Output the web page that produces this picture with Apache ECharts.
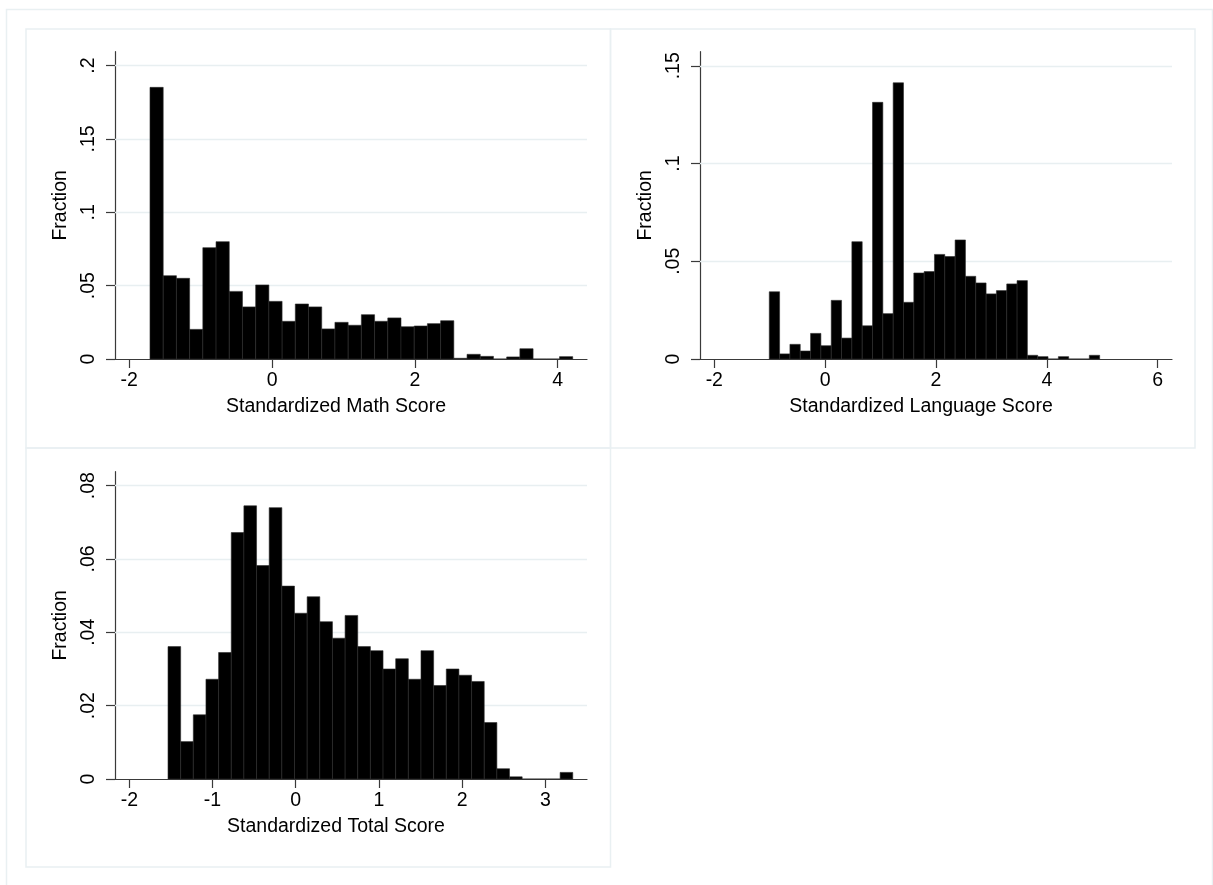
<!DOCTYPE html>
<html>
<head>
<meta charset="utf-8">
<script src="https://cdn.jsdelivr.net/npm/echarts@6/dist/echarts.min.js"></script>
<style>
html,body{margin:0;padding:0;background:#fff;}
#chart{width:1213px;height:885px;}
</style>
</head>
<body>
<div id="chart"></div>
<script>
// ---- Data (fraction per bin) ----
const mathBinStart = -1.71;
const mathBinWidth = 0.185;
const mathValues = [0.1852, 0.0568, 0.0550, 0.0202, 0.0759, 0.0800, 0.0461, 0.0355,
  0.0505, 0.0393, 0.0257, 0.0375, 0.0355, 0.0205, 0.0250, 0.0230,
  0.0302, 0.0257, 0.0280, 0.0220, 0.0225, 0.0241, 0.0261, 0.0005,
  0.0032, 0.0018, 0, 0.0014, 0.0070, 0, 0, 0.0016];

const langBinStart = -1.008;
const langBinWidth = 0.1863;
const langValues = [0.0344, 0.0026, 0.0075, 0.0041, 0.0131, 0.0068, 0.0300, 0.0107,
  0.0600, 0.0170, 0.1313, 0.0232, 0.1413, 0.0290, 0.0440, 0.0447,
  0.0535, 0.0524, 0.0609, 0.0423, 0.0389, 0.0333, 0.0350, 0.0384,
  0.0401, 0.0019, 0.0012, 0, 0.0012, 0, 0, 0.0019];

const totalBinStart = -1.535;
const totalBinWidth = 0.152;
const totalValues = [0.0361, 0.0102, 0.0175, 0.0272, 0.0345, 0.0672, 0.0745, 0.0582,
  0.0740, 0.0526, 0.0452, 0.0497, 0.0429, 0.0384, 0.0446, 0.0361,
  0.0350, 0.0300, 0.0328, 0.0272, 0.0350, 0.0255, 0.0300, 0.0283,
  0.0266, 0.0154, 0.0028, 0.0006, 0, 0, 0, 0.0018];

const mathXTicks = [-2, 0, 2, 4];
const langXTicks = [-2, 0, 2, 4, 6];
const totalXTicks = [-2, -1, 0, 1, 2, 3];
const mathYTicks = [0, 0.05, 0.1, 0.15, 0.2];
const langYTicks = [0, 0.05, 0.1, 0.15];
const totalYTicks = [0, 0.02, 0.04, 0.06, 0.08];

const mathTitle = 'Standardized Math Score';
const langTitle = 'Standardized Language Score';
const totalTitle = 'Standardized Total Score';
const yTitle = 'Fraction';

// ---- helpers ----
function bins(start, width, values) {
  return values.map((v, i) => [start + i * width, start + (i + 1) * width, v]);
}
const FONT = '"Liberation Sans", Arial, Helvetica, sans-serif';
const FS = 19.5;
const AXIS_COLOR = '#3a3a3a';
const GRID_COLOR = '#e8eff1';
const FRAME_COLOR = '#e9f0f2';

function fmtY(v) {
  if (v === 0) return '0';
  return String(+v.toFixed(4)).replace(/^0\./, '.');
}

function xAxisDef(idx, min, max, ticks, name) {
  return {
    type: 'value', gridIndex: idx, min: min, max: max,
    name: name, nameLocation: 'middle', nameGap: 38,
    nameTextStyle: {fontFamily: FONT, fontSize: FS, color: '#000', padding: [0, 30, 0, 0]},
    axisLine: {show: true, onZero: false, lineStyle: {color: AXIS_COLOR, width: 1.2}},
    axisTick: {show: true, length: 9, inside: false, customValues: ticks, lineStyle: {color: AXIS_COLOR, width: 1.2}},
    axisLabel: {customValues: ticks, margin: 12, fontFamily: FONT, fontSize: FS, color: '#000',
      formatter: v => String(v)},
    splitLine: {show: false}
  };
}
function yAxisDef(idx, max, ticks) {
  return {
    type: 'value', gridIndex: idx, min: 0, max: max,
    name: yTitle, nameLocation: 'middle', nameGap: 44, nameRotate: 90,
    nameTextStyle: {fontFamily: FONT, fontSize: FS, color: '#000'},
    axisLine: {show: true, onZero: false, lineStyle: {color: AXIS_COLOR, width: 1.2}},
    axisTick: {show: true, length: 9, inside: false, customValues: ticks, lineStyle: {color: AXIS_COLOR, width: 1.2}},
    axisLabel: {customValues: ticks, margin: 16, rotate: 90, fontFamily: FONT, fontSize: FS, color: '#000',
      formatter: fmtY},
    splitLine: {show: false}
  };
}
function gridSeries(idx, gridTicks) {
  return {
    type: 'line', xAxisIndex: idx, yAxisIndex: idx, silent: true, data: [],
    z: 1,
    markLine: {
      silent: true, symbol: 'none', animation: false, z: 1,
      label: {show: false},
      emphasis: {disabled: true},
      lineStyle: {color: GRID_COLOR, width: 1.3, type: 'solid'},
      data: gridTicks.filter(t => t !== 0).map(t => ({yAxis: t}))
    }
  };
}
function histSeries(idx, data) {
  return {
    type: 'custom', xAxisIndex: idx, yAxisIndex: idx, silent: true,
    data: data, z: 10,
    renderItem: function (params, api) {
      const p0 = api.coord([api.value(0), 0]);
      const p1 = api.coord([api.value(1), api.value(2)]);
      return {
        type: 'rect',
        shape: {x: p0[0], y: p1[1], width: p1[0] - p0[0], height: p0[1] - p1[1]},
        style: {fill: '#000', stroke: '#2b2b2b', lineWidth: 0.6}
      };
    }
  };
}

const chart = echarts.init(document.getElementById('chart'), null, {renderer: 'canvas'});
chart.setOption({
  animation: false,
  backgroundColor: '#ffffff',
  graphic: [
    {type: 'rect', silent: true, z: -10, shape: {x: 6.5, y: 9.5, width: 1206, height: 900},
      style: {fill: 'none', stroke: FRAME_COLOR, lineWidth: 1.5}},
    {type: 'rect', silent: true, z: -10, shape: {x: 26, y: 29, width: 584.5, height: 419},
      style: {fill: 'none', stroke: FRAME_COLOR, lineWidth: 1.5}},
    {type: 'rect', silent: true, z: -10, shape: {x: 610.5, y: 29, width: 584.5, height: 419},
      style: {fill: 'none', stroke: FRAME_COLOR, lineWidth: 1.5}},
    {type: 'rect', silent: true, z: -10, shape: {x: 26, y: 448, width: 584.5, height: 419},
      style: {fill: 'none', stroke: FRAME_COLOR, lineWidth: 1.5}}
  ],
  grid: [
    {left: 115, top: 51.7, width: 472, height: 307.3},
    {left: 700, top: 51.7, width: 472, height: 307.3},
    {left: 115, top: 471.7, width: 472, height: 307.3}
  ],
  xAxis: [
    xAxisDef(0, -2.2, 4.41, mathXTicks, mathTitle),
    xAxisDef(1, -2.258, 6.259, langXTicks, langTitle),
    xAxisDef(2, -2.172, 3.50, totalXTicks, totalTitle)
  ],
  yAxis: [
    yAxisDef(0, 0.2095, mathYTicks),
    yAxisDef(1, 0.1572, langYTicks),
    yAxisDef(2, 0.0838, totalYTicks)
  ],
  series: [
    gridSeries(0, mathYTicks),
    gridSeries(1, langYTicks),
    gridSeries(2, totalYTicks),
    histSeries(0, bins(mathBinStart, mathBinWidth, mathValues)),
    histSeries(1, bins(langBinStart, langBinWidth, langValues)),
    histSeries(2, bins(totalBinStart, totalBinWidth, totalValues))
  ]
});
</script>
</body>
</html>
